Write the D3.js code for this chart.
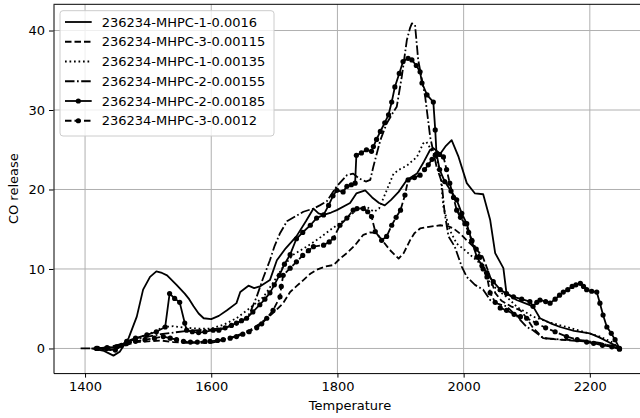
<!DOCTYPE html>
<html>
<head>
<meta charset="utf-8">
<script src="https://cdn.jsdelivr.net/npm/d3@7/dist/d3.min.js"></script>
<style>
  body { margin: 0; background: #fff; }
  svg { font-family: "DejaVu Sans", sans-serif; }
</style>
</head>
<body>
<svg id="chart" width="640" height="418"></svg>
<script>
// series: [temperature, CO release]
const s1_0016 = [[1410,0],[1430,-0.3],[1445,-0.9],[1455,-0.4],[1469,1.3],[1482,4.0],[1492,7.4],[1503,9.0],[1513,9.7],[1522,9.5],[1530,9.2],[1545,8.0],[1558,6.9],[1565,6.2],[1572,5.3],[1580,4.4],[1588,3.8],[1600,3.7],[1612,4.1],[1625,4.8],[1640,5.7],[1646,7.1],[1659,7.9],[1668,7.6],[1677,7.8],[1693,8.6],[1704,11.1],[1718,12.6],[1735,14.1],[1750,16.0],[1762,17.6],[1770,17.0],[1778,16.8],[1790,17.1],[1799,17.4],[1820,18.3],[1830,19.5],[1844,19.9],[1855,19.0],[1866,18.3],[1875,18.0],[1885,18.7],[1897,19.7],[1910,21.2],[1926,22.0],[1937,23.5],[1947,25.0],[1952,25.2],[1963,24.5],[1972,25.5],[1981,26.2],[1992,24.1],[2005,20.8],[2018,19.5],[2031,19.4],[2042,16.2],[2050,12.0],[2063,10.1],[2068,6.9],[2084,6.1],[2100,5.6],[2110,5.3],[2121,3.8],[2140,3.1],[2153,2.7],[2175,2.2],[2200,1.9],[2215,1.4],[2227,0.9],[2245,0.2]];

const s3_00115 = [[1420,0],[1440,-0.2],[1460,0.3],[1480,0.8],[1500,0.9],[1520,1.0],[1540,0.8],[1560,0.7],[1580,0.7],[1600,0.7],[1620,1.1],[1640,1.6],[1661,2.3],[1675,3.0],[1688,3.8],[1700,4.6],[1714,5.7],[1725,7.1],[1736,7.9],[1746,8.6],[1757,9.4],[1767,9.9],[1780,10.3],[1794,10.5],[1804,11.3],[1815,12.0],[1828,13.0],[1841,14.3],[1852,14.6],[1862,14.5],[1872,13.5],[1883,12.4],[1897,11.3],[1905,12.0],[1915,13.6],[1922,14.5],[1931,15.1],[1945,15.3],[1963,15.5],[1975,15.4],[1984,15.1],[1995,14.4],[2005,13.6],[2021,12.4],[2030,11.6],[2040,9.5],[2050,7.0],[2060,6.0],[2075,5.3],[2090,4.8],[2100,3.8],[2110,2.6],[2126,1.3],[2153,1.1],[2190,0.9],[2232,0.4],[2247,0]];

const s1_00135 = [[1430,0],[1450,0.2],[1470,0.8],[1490,1.5],[1510,2.1],[1524,2.7],[1540,2.8],[1560,2.6],[1580,2.5],[1600,2.5],[1620,3.0],[1640,3.8],[1660,5.0],[1683,6.5],[1700,8.5],[1714,10.3],[1730,11.8],[1751,12.8],[1770,13.8],[1790,15.0],[1815,16.4],[1830,17.4],[1845,17.9],[1858,17.2],[1866,17.6],[1876,19.5],[1889,22.0],[1900,22.6],[1910,23.0],[1926,24.1],[1936,25.8],[1941,26.0],[1950,24.8],[1957,24.0],[1963,22.0],[1968,17.8],[1978,14.9],[1989,13.2],[2000,12.5],[2013,11.6],[2026,10.7],[2042,8.2],[2058,7.1],[2068,6.5],[2085,5.2],[2110,4.0],[2135,3.3],[2163,2.7],[2190,2.1],[2216,1.5],[2235,0.8],[2247,0]];

const s2_00155 = [[1393,0],[1405,0],[1420,0],[1440,0.2],[1460,0.6],[1480,1.2],[1500,1.5],[1520,1.8],[1540,2.0],[1560,2.2],[1580,2.3],[1600,2.4],[1620,2.6],[1640,3.0],[1652,3.6],[1661,4.4],[1672,6.5],[1682,8.8],[1693,11.1],[1700,12.8],[1709,14.5],[1720,16.0],[1733,16.6],[1746,17.2],[1762,17.6],[1772,18.0],[1783,18.5],[1799,20.4],[1815,21.8],[1825,22.0],[1834,21.4],[1845,21.0],[1852,21.2],[1857,22.9],[1868,26.2],[1878,28.3],[1889,29.8],[1894,30.4],[1902,34.2],[1910,38.8],[1915,40.3],[1918,40.9],[1923,40.7],[1928,36.3],[1939,31.7],[1947,26.6],[1957,22.9],[1965,21.0],[1970,17.0],[1976,14.1],[1986,12.8],[1997,10.3],[2005,9.0],[2018,8.0],[2031,7.4],[2042,6.1],[2055,5.6],[2068,5.3],[2085,4.0],[2100,2.7],[2110,2.3],[2126,1.3],[2158,1.1],[2190,1.0],[2216,0.7],[2247,0]];

const s2_00185 = [[1418,0],[1434,0],[1448,-0.2],[1458,0.4],[1466,0.9],[1480,1.3],[1498,1.7],[1513,2.1],[1527,2.7],[1534,6.9],[1542,6.3],[1550,5.8],[1558,3.2],[1561,2.3],[1570,2.1],[1580,2.0],[1590,2.1],[1603,2.3],[1612,2.3],[1622,2.6],[1632,2.9],[1640,3.2],[1648,3.5],[1656,3.8],[1666,4.6],[1677,5.5],[1685,6.2],[1693,7.0],[1700,8.0],[1708,9.2],[1716,10.6],[1725,11.8],[1735,13.8],[1745,14.6],[1757,15.5],[1767,16.4],[1778,16.8],[1786,18.0],[1793,19.2],[1799,19.9],[1809,19.7],[1815,20.4],[1822,20.6],[1828,20.8],[1830,24.3],[1838,24.6],[1846,25.0],[1854,24.8],[1857,25.4],[1862,26.3],[1868,27.3],[1875,28.4],[1881,29.4],[1886,31.0],[1891,32.9],[1898,34.6],[1904,36.1],[1912,36.5],[1918,36.3],[1925,35.6],[1931,34.8],[1934,33.4],[1942,31.9],[1952,31.0],[1955,27.5],[1957,24.5],[1962,22.5],[1970,21.0],[1980,19.8],[1989,18.7],[1997,17.0],[2005,15.7],[2013,13.5],[2021,11.5],[2029,10.4],[2037,9.5],[2047,8.4],[2058,7.4],[2068,6.9],[2079,6.5],[2092,6.2],[2105,5.9],[2110,5.3],[2116,5.8],[2121,6.1],[2130,5.9],[2137,5.7],[2145,6.2],[2152,6.7],[2158,7.1],[2165,7.4],[2172,7.8],[2178,8.0],[2185,8.2],[2190,7.8],[2195,7.4],[2203,7.2],[2211,7.1],[2216,5.7],[2221,4.2],[2227,2.7],[2234,1.9],[2240,1.1],[2247,0]];

const s3_0012 = [[1420,0],[1435,0.1],[1450,0.2],[1465,0.6],[1480,0.9],[1495,1.1],[1510,1.3],[1524,1.5],[1535,1.3],[1545,1.1],[1556,0.9],[1567,0.8],[1578,0.8],[1590,0.9],[1598,0.9],[1610,1.0],[1619,1.1],[1630,1.3],[1640,1.5],[1650,1.8],[1660,2.1],[1672,2.6],[1680,3.1],[1688,3.8],[1698,4.8],[1709,6.5],[1711,7.8],[1714,9.2],[1725,10.1],[1735,10.9],[1745,11.7],[1754,12.3],[1762,12.8],[1778,13.0],[1787,13.4],[1794,13.9],[1804,15.5],[1815,16.4],[1825,17.4],[1831,17.6],[1841,17.6],[1848,17.2],[1854,16.6],[1860,14.7],[1870,13.6],[1878,14.1],[1886,15.5],[1893,16.5],[1900,17.4],[1907,19.3],[1912,21.2],[1922,21.5],[1931,21.8],[1938,22.5],[1944,23.1],[1950,23.8],[1955,24.3],[1962,24.4],[1968,24.1],[1973,22.5],[1978,20.8],[1984,19.0],[1989,17.4],[1995,16.5],[2002,15.7],[2008,14.6],[2013,13.6],[2020,12.5],[2026,11.5],[2031,10.0],[2037,9.0],[2042,7.0],[2050,5.8],[2058,5.1],[2068,4.8],[2080,4.3],[2090,4.0],[2100,3.8],[2115,3.2],[2130,2.6],[2145,2.1],[2163,1.5],[2180,1.1],[2195,0.8],[2206,0.65],[2220,0.4],[2235,0.2],[2247,-0.1]];

const seriesNames = ["236234-MHPC-1-0.0016", "236234-MHPC-3-0.00115", "236234-MHPC-1-0.00135",
                     "236234-MHPC-2-0.00155", "236234-MHPC-2-0.00185", "236234-MHPC-3-0.0012"];
const xTicks = [1400, 1600, 1800, 2000, 2200];
const yTicks = [0, 10, 20, 30, 40];

// line styles, one per series
const styles = [
    { dash: null, marker: false },
    { dash: "6.5,3", marker: false },
    { dash: "1.7,2.8", marker: false },
    { dash: "9.5,2.5,1.7,2.5", marker: false },
    { dash: null, marker: true },
    { dash: "6.5,3", marker: true }
];
const allSeries = [s1_0016, s3_00115, s1_00135, s2_00155, s2_00185, s3_0012];

const margin = { left: 53.5, top: 4.3 };
const width = 595, height = 368.8;
const fontSize = "13px";

const svg = d3.select("#chart");
const g = svg.append("g").attr("transform", `translate(${margin.left},${margin.top})`);

const x = d3.scaleLinear().domain([1350, 2293]).range([0, width]);
const y = d3.scaleLinear().domain([-3.1, 43.3]).range([height, 0]);

// grid
g.append("g").selectAll("line").data(xTicks).enter().append("line")
    .attr("x1", d => x(d)).attr("x2", d => x(d))
    .attr("y1", 0).attr("y2", height)
    .attr("stroke", "#b0b0b0").attr("stroke-width", 1);
g.append("g").selectAll("line").data(yTicks).enter().append("line")
    .attr("x1", 0).attr("x2", width)
    .attr("y1", d => y(d)).attr("y2", d => y(d))
    .attr("stroke", "#b0b0b0").attr("stroke-width", 1);

// axes
const xAxis = g.append("g").attr("transform", `translate(0,${height})`)
    .call(d3.axisBottom(x).tickValues(xTicks).tickFormat(d3.format("d"))
        .tickSize(4.5).tickPadding(4).tickSizeOuter(0));
const yAxis = g.append("g")
    .call(d3.axisLeft(y).tickValues(yTicks).tickFormat(d3.format("d"))
        .tickSize(4.5).tickPadding(4).tickSizeOuter(0));
[xAxis, yAxis].forEach(a => {
    a.select(".domain").attr("stroke", "#000").attr("stroke-width", 1);
    a.selectAll(".tick line").attr("stroke", "#000").attr("stroke-width", 1);
    a.selectAll(".tick text").attr("fill", "#000")
        .style("font-size", fontSize).style("font-family", "DejaVu Sans");
});
// top spine
g.append("line").attr("x1", 0).attr("x2", width).attr("y1", 0).attr("y2", 0)
    .attr("stroke", "#000").attr("stroke-width", 1);

const line = d3.line().x(d => x(d[0])).y(d => y(d[1]));

allSeries.forEach((data, i) => {
    let st = styles[i];
    g.append("path")
        .datum(data)
        .attr("d", line)
        .attr("fill", "none")
        .attr("stroke", "#000")
        .attr("stroke-width", 1.8)
        .attr("stroke-linejoin", "round")
        .attr("stroke-dasharray", st.dash);
    if (st.marker) {
        g.append("g").selectAll("circle").data(data).enter().append("circle")
            .attr("cx", d => x(d[0])).attr("cy", d => y(d[1]))
            .attr("r", 2.6).attr("fill", "#000");
    }
});

// axis labels
svg.append("text").attr("x", margin.left + width / 2 - 1).attr("y", 410)
    .attr("text-anchor", "middle").style("font-size", fontSize).text("Temperature");
svg.append("text")
    .attr("transform", `translate(18,${margin.top + height / 2}) rotate(-90)`)
    .attr("text-anchor", "middle").style("font-size", fontSize).text("CO release");

// legend
const legend = svg.append("g").attr("transform", "translate(60,10.7)");
legend.append("rect").attr("width", 214).attr("height", 125.3).attr("rx", 3)
    .attr("fill", "#fff").attr("fill-opacity", 0.8)
    .attr("stroke", "#cccccc").attr("stroke-width", 1);
seriesNames.forEach((name, i) => {
    let st = styles[i];
    let ry = 11.3 + i * 19.75;
    legend.append("line").attr("x1", 5).attr("x2", 31.7).attr("y1", ry).attr("y2", ry)
        .attr("stroke", "#000").attr("stroke-width", 1.8)
        .attr("stroke-dasharray", st.dash);
    if (st.marker) {
        legend.append("circle").attr("cx", 18.3).attr("cy", ry).attr("r", 2.6).attr("fill", "#000");
    }
    legend.append("text").attr("x", 41.7).attr("y", ry).attr("dy", "0.36em")
        .style("font-size", fontSize).text(name);
});
</script>
</body>
</html>
